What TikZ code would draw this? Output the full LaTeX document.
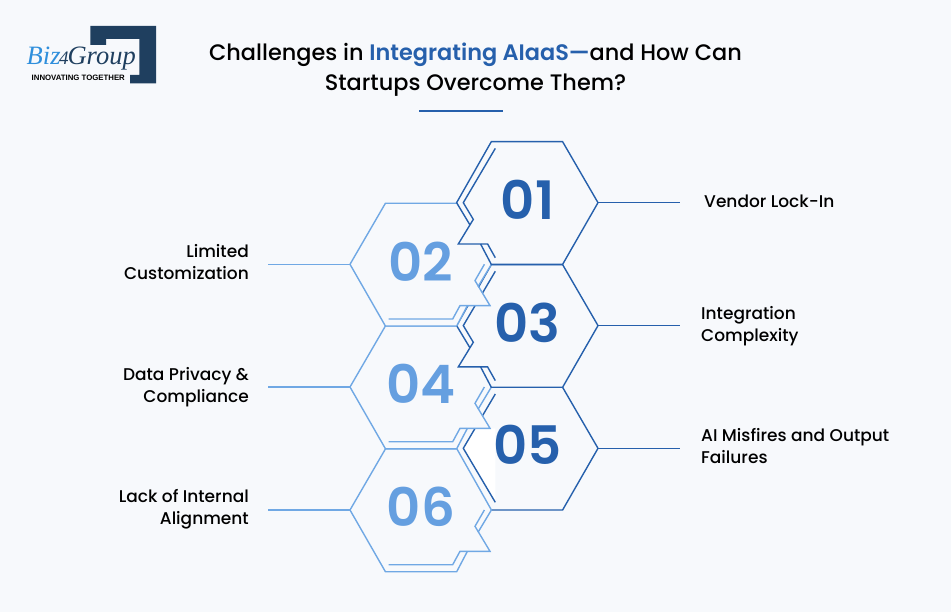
\documentclass[tikz,border=0pt]{standalone}
\usepackage{fontspec}
\setmainfont{Poppins}[UprightFont=* Medium,BoldFont=* SemiBold]
\newfontfamily\logofont{Liberation Serif}
\newfontfamily\taglinefont{Liberation Sans}
\usetikzlibrary{calc}
\definecolor{pagebg}{HTML}{F7F9FC}
\definecolor{darkblue}{HTML}{2660AC}
\definecolor{lightblue}{HTML}{70A8E4}
\definecolor{numlight}{HTML}{659FE0}
\definecolor{logonavy}{HTML}{1F3F5F}
\definecolor{logosky}{HTML}{2F8FDC}
\tikzset{
  darkline/.style={darkblue, line width=1.4pt, line join=miter},
  lightline/.style={lightblue, line width=1.4pt, line join=miter},
  darknum/.style={darkblue, font=\fontsize{53}{53}\selectfont\bfseries, inner sep=0pt},
  lightnum/.style={numlight, font=\fontsize{53}{53}\selectfont\bfseries, inner sep=0pt},
  leftlabel/.style={anchor=east, align=right, inner sep=0pt, font=\fontsize{17}{22}\selectfont},
  rightlabel/.style={anchor=west, align=left, inner sep=0pt, font=\fontsize{17}{22}\selectfont}
}
% dark hexagon with a notch on the lower left
\newcommand{\darkhex}[1]{
\begin{scope}[shift={(#1)}]
\fill[pagebg] (-36,-61) -- (35.3,-61) -- (70.7,0) -- (35.3,61.7) -- (-36,61.7) -- (-46.7,41.3) -- (-69,41.3) -- (-57.3,22.3) -- (-70.7,0) -- cycle;
\draw[darkline] (-46.7,41.3) -- (-36,61.7) -- (35.3,61.7) -- (70.7,0) -- (35.3,-61) -- (-36,-61) -- (-70.7,0) -- (-57.3,22.3);
\draw[darkline] (-32,-54.3) -- (-64,0) -- (-54,16.7) -- (-69,41.3) -- (-39.7,41.3) -- (-32,55);
\end{scope}}
% light hexagon with a notch on the lower right
\newcommand{\lighthex}[1]{
\begin{scope}[shift={(#1)}]
\fill[pagebg] (36,-61) -- (-35.3,-61) -- (-70.7,0) -- (-35.3,61.7) -- (36,61.7) -- (46.7,41.3) -- (69,41.3) -- (57.3,22.3) -- (70.7,0) -- cycle;
\draw[lightline] (46.7,41.3) -- (36,61.7) -- (-35.3,61.7) -- (-70.7,0) -- (-35.3,-61) -- (36,-61);
\draw[lightline] (70.7,0) -- (57.3,22.3);
\draw[lightline] (63.7,0) -- (54.3,16.3) -- (69.3,41.3) -- (39.3,41.3) -- (32,54.7) -- (-32,54.7);
\end{scope}}

\begin{document}
\begin{tikzpicture}[x=1pt, y=-1pt]
\useasboundingbox (0,0) rectangle (951,612);
\fill[pagebg] (0,0) rectangle (951,612);

% logo
\fill[logonavy] (90.3,26) -- (156,26) -- (156,83.3) -- (130,83.3) -- (130,75) -- (139.3,75) -- (139.3,39) -- (106,39) -- (106,45) -- (90.3,45) -- cycle;
\node[anchor=base west, inner sep=0pt, font=\logofont\itshape\fontsize{26.5}{26.5}\selectfont] (logoname) at (26.5,65) {\textcolor{logosky}{Biz}\kern-1.5pt\textcolor{logonavy}{\fontsize{19}{19}\selectfont 4}\kern-1pt\textcolor{logonavy}{Group}};
\node[anchor=base west, inner sep=0pt, text=black, font=\taglinefont\bfseries\fontsize{7.8}{7.8}\selectfont] (logotag) at (31.5,81) {INNOVATING TOGETHER};

% title
\node[align=center, inner sep=0pt, font=\fontsize{22.4}{30}\selectfont] (title) at (475.5,69.5) {Challenges in \textcolor{darkblue}{\bfseries Integrating AIaaS—}and How Can\\Startups Overcome Them?};
\coordinate (ruleleft) at (419,111);
\coordinate (ruleright) at (503,111);
\draw[darkblue, line width=1.4pt] (ruleleft) -- (ruleright);

% hexagons, lowest first
\begin{scope}[shift={(527.3,448.3)}]
\fill[pagebg] (-36,-61) -- (35.3,-61) -- (70.7,0) -- (35.3,61.7) -- (-36,61.7) -- (-70.7,0) -- cycle;
\fill[white] (-64,0) -- (-52,-20) -- (-32,-20) -- (-32,54) -- cycle;
\draw[darkline] (-36,61.7) -- (35.3,61.7) -- (70.7,0) -- (35.3,-61) -- (-36,-61);
\draw[darkline] (-32,-54.3) -- (-64,0) -- (-32,54);
\end{scope}
\lighthex{420.7,510}
\draw[lightline] (456.7,448.5) -- (491.4,510);
\lighthex{420.7,387}
\darkhex{527.3,325.6}
\lighthex{420.7,264.3}
\darkhex{527.3,202.7}

% numbers
\node[darknum] (num01) at (527.5,200) {01};
\node[lightnum] (num02) at (421,261.5) {02};
\node[darknum] (num03) at (527.5,322.5) {03};
\node[lightnum] (num04) at (421,384) {04};
\node[darknum] (num05) at (527.5,445) {05};
\node[lightnum] (num06) at (421,507) {06};

% connectors
\coordinate (tip01) at (598,202.7);
\coordinate (tip03) at (598,325.6);
\coordinate (tip05) at (598,448.3);
\coordinate (end01) at (680,202.7);
\coordinate (end03) at (680,325.6);
\coordinate (end05) at (680,448.3);
\coordinate (tip02) at (350,264.3);
\coordinate (tip04) at (350,387);
\coordinate (tip06) at (350,510);
\coordinate (end02) at (268,264.3);
\coordinate (end04) at (268,387);
\coordinate (end06) at (268,510);
\path
(tip01) edge[darkline] (end01)
(tip03) edge[darkline] (end03)
(tip05) edge[darkline] (end05)
(tip02) edge[lightline] (end02)
(tip04) edge[lightline] (end04)
(tip06) edge[lightline] (end06);

% labels
\node[rightlabel] (vendor) at (704,201.5) {Vendor Lock-In};
\node[rightlabel] (integration) at (701,326) {Integration\\Complexity};
\node[rightlabel] (misfires) at (701,446.5) {AI Misfires and Output\\Failures};
\node[leftlabel] (limited) at (249,262.5) {Limited\\Customization};
\node[leftlabel] (privacy) at (249,387.5) {Data Privacy \&\\Compliance};
\node[leftlabel] (alignment) at (249,509.5) {Lack of Internal\\Alignment};
\end{tikzpicture}
\end{document}
